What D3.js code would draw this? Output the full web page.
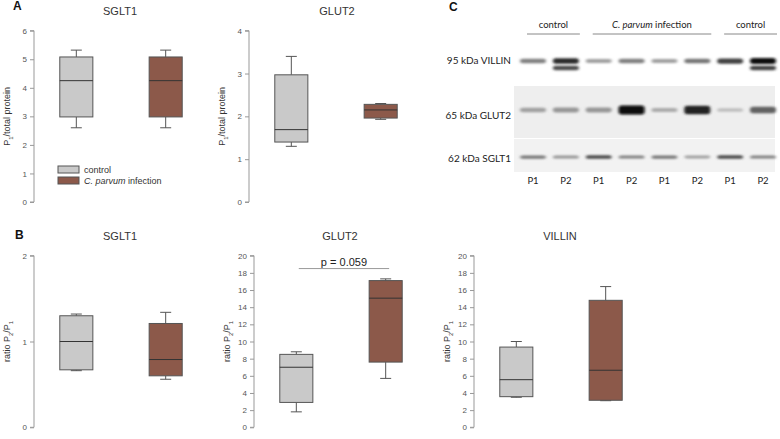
<!DOCTYPE html>
<html>
<head>
<meta charset="utf-8">
<script src="https://cdn.jsdelivr.net/npm/d3@7"></script>
<style>
  body { margin: 0; background: #fff; }
  svg text { font-family: "Liberation Sans", Arial, sans-serif; }
  .tick text { fill: #555; font-size: 8px; }
  svg .blot text { font-family: Lato, "Open Sans", sans-serif; fill: #222; }
</style>
</head>
<body>
<script>
/* data */

var groups = ['control', 'infection'];
var groupLabels = ['control', 'C. parvum infection'];

// box stats: [whisker low, q1, median, q3, whisker high], control then infection
var aSglt1 = [[2.6, 2.98, 4.25, 5.08, 5.32], [2.6, 2.98, 4.25, 5.08, 5.32]];
var aGlut2 = [[1.3, 1.4, 1.69, 2.97, 3.4], [1.93, 1.96, 2.15, 2.28, 2.3]];
var bSglt1 = [[0.66, 0.67, 1.0, 1.3, 1.32], [0.56, 0.6, 0.79, 1.21, 1.34]];
var bGlut2 = [[1.8, 2.9, 7.0, 8.5, 8.8], [5.7, 7.6, 15.05, 17.1, 17.3]];
var bVillin = [[3.5, 3.57, 5.55, 9.35, 10.0], [3.1, 3.15, 6.65, 14.8, 16.4]];

var ticksA1 = [0, 1, 2, 3, 4, 5, 6];
var ticksA2 = [0, 1, 2, 3, 4];
var ticksB1 = [0, 1, 2];
var ticksB2 = [0, 2, 4, 6, 8, 10, 12, 14, 16, 18, 20];

// western blot lanes and band intensities (0..1)
var lanes = ['P1', 'P2', 'P1', 'P2', 'P1', 'P2', 'P1', 'P2'];
var laneGroups = [
  { name: 'control', italic: '', from: 0, to: 1 },
  { name: ' infection', italic: 'C. parvum', from: 2, to: 5 },
  { name: 'control', italic: '', from: 6, to: 7 }
];
var villinBands = [0.45, 0.85, 0.3, 0.45, 0.3, 0.5, 0.75, 1.0];
var villinLower = [0, 0.7, 0, 0, 0, 0, 0, 0.75];
var glut2Bands = [0.3, 0.35, 0.35, 1.0, 0.25, 0.9, 0.15, 0.6];
var sglt1Bands = [0.5, 0.35, 0.7, 0.45, 0.5, 0.3, 0.7, 0.45];

var colour = d3.scaleOrdinal().domain(groups).range(['#c9c9c9', '#8c594a']);

var width = 780, height = 439;
var svg = d3.select('body').append('svg')
  .attr('width', width).attr('height', height);

/* box plot panel */

function boxPanel(opt) {
  var y = d3.scaleLinear().domain(opt.domain).range([opt.y1, opt.y0]);
  var x = d3.scaleBand().domain(groups).range([opt.x + 24, opt.x + 150]).paddingInner(0.63).paddingOuter(0.02);

  var g = svg.append('g');

  var axis = g.append('g')
    .attr('transform', 'translate(' + opt.x + ',0)')
    .call(d3.axisLeft(y).tickValues(opt.ticks).tickFormat(d3.format('d')).tickSize(4).tickPadding(3));
  axis.attr('font-family', null);
  axis.selectAll('path, line').attr('stroke', '#999');
  axis.select('.domain').attr('d', 'M-4,' + y(opt.domain[1]) + 'H0V' + y(opt.domain[0]) + 'H-4');

  g.append('text')
    .attr('x', opt.titleX).attr('y', opt.y0 - 16)
    .attr('text-anchor', 'middle')
    .style('font-size', '11px').attr('fill', '#333')
    .text(opt.title);

  var lab = g.append('text')
    .attr('transform', 'translate(' + (opt.x - 24) + ',' + ((opt.y0 + opt.y1) / 2) + ') rotate(-90)')
    .attr('text-anchor', 'middle')
    .style('font-size', '9px').attr('fill', '#333');
  lab.append('tspan').text(opt.labelPre + 'P');
  lab.append('tspan').attr('baseline-shift', 'sub').style('font-size', '6px').text(opt.sub1);
  if (opt.sub2) {
    lab.append('tspan').text('/P');
    lab.append('tspan').attr('baseline-shift', 'sub').style('font-size', '6px').text(opt.sub2);
  } else {
    lab.append('tspan').text('/total protein');
  }

  var boxes = g.selectAll('.box').data(opt.data).enter().append('g').attr('class', 'box');
  var cap = 5.5;

  boxes.each(function (d, i) {
    var b = d3.select(this);
    var cx = x(groups[i]) + x.bandwidth() / 2;
    b.append('line').attr('x1', cx).attr('x2', cx).attr('y1', y(d[4])).attr('y2', y(d[3])).attr('stroke', '#555');
    b.append('line').attr('x1', cx).attr('x2', cx).attr('y1', y(d[1])).attr('y2', y(d[0])).attr('stroke', '#555');
    b.append('line').attr('x1', cx - cap).attr('x2', cx + cap).attr('y1', y(d[4])).attr('y2', y(d[4])).attr('stroke', '#555');
    b.append('line').attr('x1', cx - cap).attr('x2', cx + cap).attr('y1', y(d[0])).attr('y2', y(d[0])).attr('stroke', '#555');
    b.append('rect')
      .attr('x', x(groups[i])).attr('width', x.bandwidth())
      .attr('y', y(d[3])).attr('height', y(d[1]) - y(d[3]))
      .attr('fill', colour(groups[i])).attr('stroke', '#555').attr('stroke-width', 1);
    b.append('line').attr('x1', x(groups[i])).attr('x2', x(groups[i]) + x.bandwidth())
      .attr('y1', y(d[2])).attr('y2', y(d[2])).attr('stroke', '#333').attr('stroke-width', 1);
  });

  return { g: g, x: x, y: y };
}

var pA1 = boxPanel({ x: 34, y0: 30.7, y1: 202, domain: [0, 6], ticks: ticksA1, data: aSglt1, title: 'SGLT1', titleX: 120, labelPre: '', sub1: '1' });
var pA2 = boxPanel({ x: 249, y0: 30.7, y1: 202, domain: [0, 4], ticks: ticksA2, data: aGlut2, title: 'GLUT2', titleX: 337, labelPre: '', sub1: '1' });
var pB1 = boxPanel({ x: 34, y0: 255.7, y1: 427.3, domain: [0, 2], ticks: ticksB1, data: bSglt1, title: 'SGLT1', titleX: 120, labelPre: 'ratio ', sub1: '2', sub2: '1' });
var pB2 = boxPanel({ x: 254, y0: 255.7, y1: 427.3, domain: [0, 20], ticks: ticksB2, data: bGlut2, title: 'GLUT2', titleX: 340, labelPre: 'ratio ', sub1: '2', sub2: '1' });
var pB3 = boxPanel({ x: 474, y0: 255.7, y1: 427.3, domain: [0, 20], ticks: ticksB2, data: bVillin, title: 'VILLIN', titleX: 560, labelPre: 'ratio ', sub1: '2', sub2: '1' });

/* p value bracket */
pB2.g.append('line')
  .attr('x1', pB2.x('control') + 19).attr('x2', pB2.x('infection') + 20)
  .attr('y1', pB2.y(18.5)).attr('y2', pB2.y(18.5))
  .attr('stroke', '#999');
pB2.g.append('text')
  .attr('x', (pB2.x('control') + pB2.x('infection') + 39) / 2).attr('y', pB2.y(18.5) - 2.5)
  .attr('text-anchor', 'middle').style('font-size', '11px').attr('fill', '#222')
  .text('p = 0.059');

/* legend */
var legend = svg.append('g').attr('transform', 'translate(58,166)');
groups.forEach(function (gname, i) {
  legend.append('rect').attr('x', 0).attr('y', i * 11).attr('width', 21).attr('height', 7)
    .attr('fill', colour(gname)).attr('stroke', '#555');
  var t = legend.append('text').attr('x', 26).attr('y', i * 11 + 7).style('font-size', '9px').attr('fill', '#333');
  if (i === 1) {
    t.append('tspan').style('font-style', 'italic').text('C. parvum');
    t.append('tspan').text(' infection');
  } else {
    t.text(groupLabels[i]);
  }
});

/* panel letters */
[['A', 13, 10], ['B', 15, 239], ['C', 449, 11]].forEach(function (p) {
  svg.append('text').attr('x', p[1]).attr('y', p[2])
    .style('font-size', '12px').style('font-weight', 'bold').attr('fill', '#111')
    .text(p[0]);
});

/* western blot */
var blot = svg.append('g').attr('class', 'blot');
var lx = d3.scalePoint().domain(d3.range(lanes.length)).range([533, 763]);

var defs = svg.append('defs');
defs.append('filter').attr('id', 'blur').attr('x', '-50%').attr('y', '-100%').attr('width', '200%').attr('height', '300%')
  .append('feGaussianBlur').attr('stdDeviation', '1.8 1.2');

// membrane backgrounds
blot.append('rect').attr('x', 514).attr('y', 86).attr('width', 261).attr('height', 52).attr('fill', '#eeeeee');
blot.append('rect').attr('x', 514).attr('y', 139).attr('width', 261).attr('height', 33).attr('fill', '#f2f2f2');

var shade = d3.scaleLinear().domain([0, 0.5, 1]).range(['#dddddd', '#777777', '#0c0c0c']);

function bandRow(vals, cy, hMin, hMax) {
  var gg = blot.append('g').attr('filter', 'url(#blur)');
  vals.forEach(function (v, i) {
    if (!v) return;
    var h = hMin + (hMax - hMin) * v;
    gg.append('rect')
      .attr('x', lx(i) - 13).attr('width', 26)
      .attr('y', cy - h / 2).attr('height', h)
      .attr('rx', 3)
      .attr('fill', shade(v));
  });
}

bandRow(villinBands, 61, 3, 6);
bandRow(villinLower, 68, 3, 5);
bandRow(glut2Bands, 110, 2.5, 9);
bandRow(sglt1Bands, 157, 2.5, 4);

// row labels
[['95 kDa VILLIN', 64], ['65 kDa GLUT2', 119], ['62 kDa SGLT1', 162]].forEach(function (r) {
  blot.append('text').attr('x', 511).attr('y', r[1]).attr('text-anchor', 'end')
    .style('font-size', '10px').text(r[0]);
});

// lane labels
blot.selectAll('.lane').data(lanes).enter().append('text')
  .attr('class', 'lane')
  .attr('x', function (d, i) { return lx(i); }).attr('y', 184)
  .attr('text-anchor', 'middle').style('font-size', '9.5px')
  .text(function (d) { return d; });

// group headers
laneGroups.forEach(function (lg) {
  var x0 = lx(lg.from) - 6, x1 = lx(lg.to) + 14;
  if (lg.from === 0) x0 = 527;
  blot.append('line').attr('x1', x0).attr('x2', x1).attr('y1', 34).attr('y2', 34)
    .attr('stroke', '#888');
  var t = blot.append('text').attr('x', (x0 + x1) / 2).attr('y', 28)
    .attr('text-anchor', 'middle').style('font-size', '9.5px');
  if (lg.italic) t.append('tspan').style('font-style', 'italic').text(lg.italic);
  t.append('tspan').text(lg.name);
});
</script>
</body>
</html>
